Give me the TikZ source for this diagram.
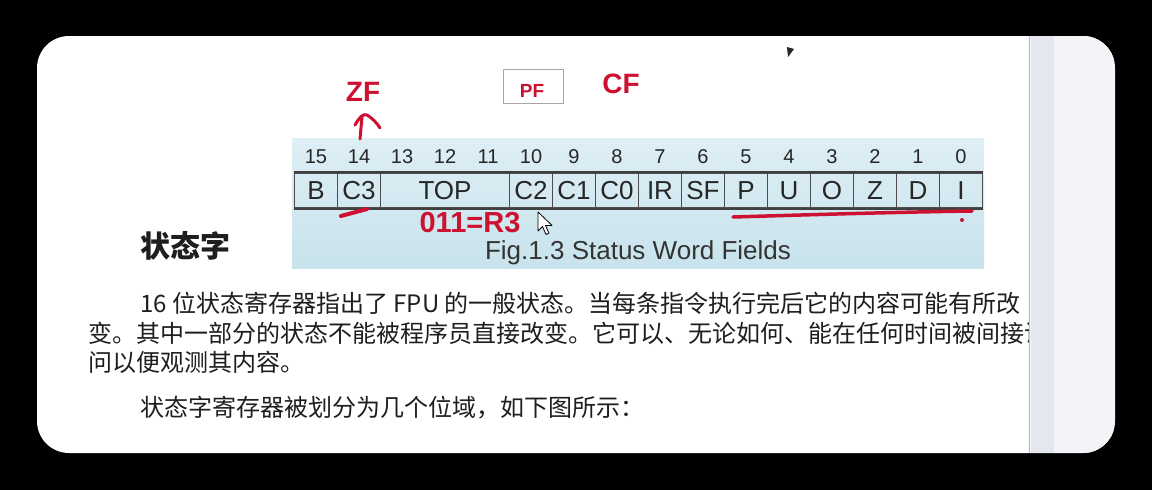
\documentclass[tikz,border=0pt]{standalone}
\usepackage{fontspec}
\newfontfamily\cjkfont{Noto Sans CJK SC}
\newfontfamily\arialfont{Liberation Sans}
\definecolor{annored}{RGB}{204,18,48}
\definecolor{paneltop}{RGB}{222,238,245}
\definecolor{panelbot}{RGB}{200,227,236}
\definecolor{barlight}{RGB}{243,244,248}
\definecolor{bardark}{RGB}{229,231,238}
\definecolor{inkgray}{RGB}{30,30,30}
\usetikzlibrary{arrows.meta,positioning,calc}

\begin{document}
\begin{tikzpicture}[x=1pt,y=-1pt,
  bitcell/.style={draw=black!70,line width=1.1pt,minimum height=35pt,inner sep=0pt,
    font=\arialfont\fontsize{26}{26}\selectfont,text=black!85},
  bitnum/.style={inner sep=0pt,font=\arialfont\fontsize{20}{20}\selectfont,text=black!85},
  redmark/.style={text=annored,inner sep=0pt,font=\arialfont\bfseries\fontsize{28}{28}\selectfont},
  redpen/.style={draw=annored,line cap=round,line join=round},
  bodyline/.style={anchor=base west,inner sep=0pt,text=inkgray,
    font=\cjkfont\fontsize{24}{24}\selectfont}
]
  % frame
  \fill[black] (0,0) rectangle (1152,490);
  \useasboundingbox (0,0) rectangle (1152,490);
  \fill[white,rounded corners=32pt] (37,36) rectangle (1115,453);
  \begin{scope}
    \clip[rounded corners=32pt] (37,36) rectangle (1115,453);
    \fill[barlight] (1028,36) rectangle (1115,453);
    \fill[bardark] (1031,36) rectangle (1054,453);
    \draw[black!25] (1029,36) -- (1029,453);
  \end{scope}

  % figure panel
  \shade[top color=paneltop,bottom color=panelbot] (292,138) rectangle (984,268);

  % bit numbers
  \foreach \b in {0,...,15}
    \node[bitnum] (num\b) at ({316+(15-\b)*43},157) {\b};

  % register fields
  \foreach \lbl/\b/\n in {B/15/1,C3/14/1,TOP/12/3,C2/10/1,C1/9/1,C0/8/1,IR/7/1,SF/6/1,
      P/5/1,U/4/1,O/3/1,Z/2/1,D/1/1,I/0/1}
    \node[bitcell,minimum width=\n*43pt] (cell\b) at ({316+(15-\b)*43},190.5) {\lbl};
  \draw[line width=2pt,black!75] (cell15.north west) -- (cell0.north east);
  \draw[line width=2pt,black!75] (cell15.south west) -- (cell0.south east);

  % caption
  \node[anchor=base,inner sep=0pt,font=\arialfont\fontsize{26}{26}\selectfont,text=black!80]
    (caption) at (638,259) {Fig.1.3 Status Word Fields};

  % red notes
  \node[redmark] (zf) at (363,92) {ZF};
  \node[draw=black!35,line width=0.8pt,minimum width=60pt,minimum height=34pt,inner sep=0pt]
    (pfbox) at (533.5,86) {};
  \node[redmark,font=\arialfont\bfseries\fontsize{19}{19}\selectfont] (pf) at (532,91) {PF};
  \node[redmark,font=\arialfont\bfseries\fontsize{28}{28}\selectfont] (cf) at (621,84) {CF};
  \node[redmark,font=\arialfont\bfseries\fontsize{29}{29}\selectfont] (r3) at (470,223) {011=R3};

  % hand-drawn arrow to ZF
  \coordinate (zftail) at (360,139);
  \coordinate (zfhead) at (362,117);
  \draw[redpen,line width=3pt] (zftail) -- (zfhead);
  \draw[redpen,line width=3pt] (355,125) .. controls (359,118) and (363,113) .. (367,115)
    .. controls (372,118) and (377,123) .. (380,128);

  % pen strokes
  \draw[redpen,line width=4pt] (341,216) -- (367,209);
  \draw[redpen,line width=3.5pt] (733,217) .. controls (800,215) and (900,212) .. (972,211);
  \fill[annored] (962,220) circle (2pt);

  % cursor and mark
  \draw[fill=white,line width=0.8pt,line join=round] (538,212) -- ++(0,19) -- ++(4.5,-4.5)
    -- ++(3.5,8) -- ++(3,-1.3) -- ++(-3.5,-7.8) -- ++(6.5,0) -- cycle;
  \fill[black!85] (787,47) -- (794,49) -- (788,57) -- cycle;

  % body text
  \node[anchor=base west,inner sep=0pt,text=inkgray,
    font=\cjkfont\bfseries\fontsize{30}{30}\selectfont] (heading) at (140,257) {状态字};
  \begin{scope}
    \clip (37,36) rectangle (1028,453);
    \node[bodyline] (line1) at (140,312) {16 位状态寄存器指出了 FPU 的一般状态。当每条指令执行完后它的内容可能有所改};
    \node[bodyline] (line2) at (88,342) {变。其中一部分的状态不能被程序员直接改变。它可以、无论如何、能在任何时间被间接访};
    \node[bodyline] (line3) at (88,371) {问以便观测其内容。};
    \node[bodyline] (line4) at (140,416) {状态字寄存器被划分为几个位域，如下图所示：};
  \end{scope}
\end{tikzpicture}
\end{document}
